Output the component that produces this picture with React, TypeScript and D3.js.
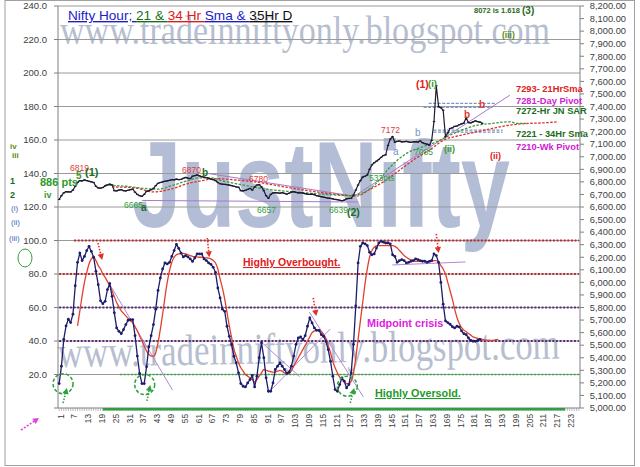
import React from 'react';
import * as d3 from 'd3';

// ---- data ----
const categories = d3.range(1, 228);
const xTickLabels = d3.range(1, 224, 6);
const leftTicks = d3.range(20, 241, 20);
const rightTicks = d3.range(5000, 8201, 100);

// hourly oscillator (left axis), categories 1..184
const osc = [14.6, 25, 41, 49, 53, 51, 56, 73, 87, 92.5, 88, 90.5, 94, 96.5, 93.5, 90, 81.6, 73.6, 64, 62.3,
  63.7, 70.7, 74.2, 66.7, 56.8, 47.8, 45.8, 44.4, 46.8, 49.8, 52.4, 52.8, 52.8, 43.2, 31, 20.6, 14.6, 14.6, 24.6, 36.5,
  43.2, 49.8, 59, 70.2, 77.6, 83, 86.6, 86, 87, 90.5, 94, 97.7, 95.3, 92.5, 90.2, 91, 90.2, 89, 87.5, 89.6,
  92, 92, 92, 89, 88, 86.6, 85.8, 84, 81, 71.7, 65.7, 59, 57.7, 48.8, 42.8, 37.9, 30.9, 27, 21, 14.6,
  13, 12.6, 15, 17, 19.4, 12.6, 19, 30, 39, 30, 18, 10, 10, 15, 23, 25, 27, 25, 23, 20.6,
  21.4, 25, 31, 38, 41.8, 42.4, 40.8, 43.2, 48.8, 53.8, 50.8, 47.8, 46.4, 46.3, 43.8, 42.8, 39.8, 34.9, 27.9, 19,
  11, 10, 14, 18, 16, 12, 14, 21, 38, 61, 86.6, 96.5, 98.5, 98, 97, 93, 91.5, 92, 95.5, 98.5,
  99.5, 99, 98.5, 98.5, 98, 91.5, 90.5, 87, 88, 88.6, 88, 86.6, 87, 87.6, 88, 89, 88.6, 88, 87.6, 87.6,
  87, 87.5, 88, 92, 91, 87, 75, 62, 52, 51, 50, 48.5, 47.8, 48.8, 48.4, 46, 44.4, 43.8, 41.8, 40.4,
  39.8, 39.8, 40.4, 41];

// its moving average, starting at category 9
const oscSmaStart = 9;
const oscSma = [49, 58, 67, 75, 81, 86, 89, 90, 88, 85, 83, 80, 78, 75.5, 73, 70, 66.5, 63, 60.5, 58,
  56.5, 55, 53.5, 52, 51, 48.5, 46, 43, 40, 37, 34, 32, 31, 31, 33, 39, 47, 56, 66, 75,
  82, 87, 90, 91.5, 92, 92.3, 92.3, 92, 91.5, 91, 90.5, 90.3, 90.2, 90, 90, 89.8, 89.6, 89.5, 89, 88,
  86.6, 83, 77, 71.7, 65, 57, 49, 42, 35, 31, 27, 24, 22, 20, 19, 18, 17, 15.5, 17, 19,
  21, 23, 22.5, 22, 21.7, 21.4, 21.5, 22, 22.5, 22, 21, 20.8, 20.6, 22.5, 25, 27.5, 30, 32.5, 35, 37.5,
  40, 42.5, 45, 46, 46.4, 46.4, 45.5, 44, 41.5, 37.5, 33, 28, 24, 21, 18.5, 17, 15.5, 14.5, 14.5, 16,
  21, 30, 41, 52, 63, 74, 83, 90, 94, 96, 96.8, 97, 97, 97, 97, 97, 97, 97, 96.5, 95.5,
  94, 92.5, 91, 90, 89, 88.5, 88, 87.5, 87.5, 87.5, 87.5, 87.5, 87.5, 87.5, 87.5, 88, 88, 87, 85, 83,
  80, 75, 70, 65, 59, 54, 50.5, 48, 46.5, 45.5, 44.5, 43.5, 42.5, 42, 41.5, 41.3, 41, 40.7, 40.4, 40.3,
  40.3, 40.5, 40.8, 41];

// Nifty hourly close (right axis), categories 1..185
const price = [6660, 6690, 6712, 6722, 6720, 6720, 6735, 6765, 6795, 6810, 6808, 6815, 6810, 6805, 6800, 6795, 6765, 6752, 6750, 6755,
  6768, 6775, 6782, 6776, 6730, 6728, 6735, 6738, 6730, 6728, 6733, 6738, 6742, 6718, 6700, 6690, 6685, 6700, 6725, 6730,
  6738, 6748, 6770, 6788, 6795, 6800, 6805, 6808, 6812, 6818, 6816, 6822, 6818, 6820, 6828, 6835, 6830, 6826, 6845, 6850,
  6855, 6848, 6842, 6838, 6834, 6828, 6822, 6818, 6810, 6795, 6785, 6782, 6780, 6778, 6774, 6770, 6765, 6760, 6757, 6730,
  6728, 6733, 6740, 6748, 6735, 6760, 6775, 6778, 6760, 6730, 6690, 6670, 6700, 6712, 6715, 6712, 6710, 6714, 6708, 6702,
  6710, 6718, 6722, 6716, 6712, 6714, 6710, 6706, 6702, 6700, 6702, 6698, 6690, 6686, 6682, 6678, 6675, 6670, 6668, 6665,
  6660, 6658, 6654, 6650, 6655, 6665, 6668, 6668, 6695, 6735, 6775, 6810, 6838, 6845, 6855, 6900, 6935, 6952, 6965, 6978,
  6995, 7010, 7015, 7090, 7140, 7160, 7115, 7122, 7125, 7118, 7120, 7122, 7118, 7115, 7118, 7120, 7116, 7125, 7112, 7105,
  7100, 7092, 7130, 7280, 7565, 7400, 7390, 7370, 7160, 7190, 7225, 7230, 7242, 7245, 7255, 7262, 7268, 7310, 7272, 7270,
  7278, 7286, 7280, 7276, 7266];

// 21 hr and 34 hr SMA readings (category, price)
const sma21Cats = [21, 30, 38, 44, 50, 56, 62, 67, 72, 78, 84, 90, 100, 110, 120, 127, 133, 139, 145, 152, 159, 165, 171, 176, 183, 189, 197, 200, 204];
const sma21Vals = [6775, 6765, 6748, 6742, 6770, 6805, 6832, 6832, 6808, 6785, 6765, 6745, 6725, 6710, 6697, 6690, 6712, 6790, 6919, 7026, 7079, 7118, 7172, 7212, 7252, 7265, 7278, 7265, 7265];
const sma34Cats = [24, 34, 42, 50, 57, 64, 69, 78, 86, 99, 113, 125, 130, 136, 142, 149, 156, 162, 168, 176, 183, 190, 197, 205, 212, 218];
const sma34Vals = [6760, 6752, 6720, 6745, 6787, 6812, 6826, 6815, 6800, 6760, 6720, 6694, 6686, 6739, 6800, 6893, 6986, 7052, 7130, 7172, 7200, 7228, 7252, 7265, 7270, 7278];

// trend lines on price [c1, p1, c2, p2]
const priceTrends = [[37, 6652, 131, 6640], [66, 6866, 128, 6690], [130, 6694, 197, 7490]];
// pivot bands [cFrom, cTo, price]
const pivotLines = [[161.7, 190.8, 7425], [159.5, 189.5, 7393], [163.8, 193.8, 7212], [163.8, 193.8, 7196]];
// trend lines on oscillator [c1, v1, c2, v2]
const oscTrends = [[23.2, 73.4, 50.3, 10.7], [89.2, 39, 105.6, 18.7], [91.9, 9, 118.9, 47.2], [109.8, 57.3, 133.3, 6.6], [145.9, 85.4, 177.7, 87.2]];
// level lines on oscillator
const levels = [
  { v: 100, from: 7.5, to: 227, color: '#b52a2e', dash: '2 1.6', w: 2 },
  { v: 80, from: 1, to: 227, color: '#b52a2e', dash: '2 1.6', w: 2 },
  { v: 60, from: 1, to: 227, color: '#5a2b78', dash: '2 1.6', w: 2 },
  { v: 40, from: 1, to: 227, color: '#5a2b78', dash: '2 1.6', w: 2 },
  { v: 20, from: 27.5, to: 227, color: '#35a545', dash: '2 1.6', w: 1.6 },
];
const redArrows = [[17.9, 98.5, 19.7, 88.4], [65.4, 101.5, 66.3, 90], [111.5, 65.7, 112.8, 54.9], [165, 103.9, 166, 92.5]];
const greenArrows = [[2.7, 3, 4.4, 12], [39.2, 4.2, 40.6, 13.7], [127.6, 3, 129.3, 12]];
const greenCircles = [[2.7, 14.5], [38.2, 14], [126.3, 13]];

const FONT = '"Liberation Sans", Arial, sans-serif';
const SERIF = '"Liberation Serif", "Times New Roman", serif';

const x = d3.scaleBand<number>().domain(categories).range([58, 580]);
const bw = x.bandwidth();
const cx = (c: number) => 58 + (c - 1) * bw + bw / 2;
const yL = d3.scaleLinear().domain([0, 240]).range([408, 6]);
const yR = d3.scaleLinear().domain([5000, 8200]).range([408, 6]);

function Arrow({ x1, y1, x2, y2, color, dash }: { x1: number; y1: number; x2: number; y2: number; color: string; dash: string }) {
  const a = Math.atan2(y2 - y1, x2 - x1);
  const hl = 6, hw = 3.2;
  const bx = x2 - hl * Math.cos(a), by = y2 - hl * Math.sin(a);
  const px = -Math.sin(a) * hw, py = Math.cos(a) * hw;
  return (
    <g>
      <line x1={x1} y1={y1} x2={bx} y2={by} stroke={color} strokeWidth={1.6} strokeDasharray={dash} />
      <polygon points={`${x2},${y2} ${bx + px},${by + py} ${bx - px},${by - py}`} fill={color} />
    </g>
  );
}

export default function App() {
  const oscLine = d3.line<number>().x((_, i) => cx(i + 1)).y(d => yL(d));
  const oscSmaLine = d3.line<number>().x((_, i) => cx(i + oscSmaStart)).y(d => yL(d)).curve(d3.curveMonotoneX);
  const priceLine = d3.line<number>().x((_, i) => cx(i + 1)).y(d => yR(d));
  const smaLine = d3.line<[number, number]>().x(d => cx(d[0])).y(d => yR(d[1])).curve(d3.curveMonotoneX);
  const sma21 = sma21Cats.map((c, i) => [c, sma21Vals[i]] as [number, number]);
  const sma34 = sma34Cats.map((c, i) => [c, sma34Vals[i]] as [number, number]);

  const lbl = (t: string, px: number, py: number, fill: string, size = 8.5, weight = 'normal', anchor = 'start') => (
    <text key={t + px + '_' + py} x={px} y={py} fill={fill} fontSize={size} fontWeight={weight} textAnchor={anchor} fontFamily={FONT}>{t}</text>
  );

  return (
    <svg width={640} height={467} style={{ position: 'absolute', left: 0, top: 0 }} xmlns="http://www.w3.org/2000/svg">
      <rect x={0} y={0} width={640} height={467} fill="#ffffff" />
      <rect x={5} y={0.5} width={629.5} height={465} fill="#ffffff" stroke="#a0a0a0" strokeWidth={1} />

      {/* watermarks */}
      <text x={60} y={44} fontFamily={SERIF} fontSize={40} fill="#b6bed0" textLength={490} lengthAdjust="spacingAndGlyphs">www.tradeinniftyonly.blogspot.com</text>
      <text x={132} y={227} fontFamily='"Liberation Sans Narrow", "Liberation Sans", Arial, sans-serif' fontWeight="bold" fontSize={122} fill="#b3bdd6" textLength={378} lengthAdjust="spacingAndGlyphs">JustNifty</text>
      <text x={58} y={363} transform="rotate(-1 300 363)" fontFamily={SERIF} fontSize={44} fill="#b6bed0" textLength={502} lengthAdjust="spacingAndGlyphs">www.tradeinniftyonly.blogspot.com</text>

      {/* gridlines */}
      {leftTicks.map(t => (
        <line key={'g' + t} x1={58} x2={580} y1={yL(t)} y2={yL(t)} stroke="#9a9a9a" strokeWidth={1} />
      ))}

      {/* level lines */}
      {levels.map(l => (
        <line key={'lv' + l.v} x1={cx(l.from)} x2={Math.min(580, cx(l.to))} y1={yL(l.v)} y2={yL(l.v)} stroke={l.color} strokeWidth={l.w} strokeDasharray={l.dash} />
      ))}

      {/* axes */}
      <line x1={58} x2={58} y1={6} y2={408} stroke="#808080" />
      <line x1={580} x2={580} y1={6} y2={408} stroke="#808080" />
      <line x1={58} x2={580} y1={408} y2={408} stroke="#808080" />
      {categories.map(c => (
        <line key={'xt' + c} x1={cx(c)} x2={cx(c)} y1={408} y2={411} stroke="#909090" strokeWidth={0.6} />
      ))}
      {leftTicks.concat([0]).map(t => (
        <line key={'lt' + t} x1={54} x2={58} y1={yL(t)} y2={yL(t)} stroke="#808080" />
      ))}
      {leftTicks.map(t => lbl(d3.format('.1f')(t), 47, yL(t) + 3.3, '#404040', 9.5, 'normal', 'end'))}
      {rightTicks.map(t => (
        <line key={'rt' + t} x1={580} x2={584} y1={yR(t)} y2={yR(t)} stroke="#808080" />
      ))}
      {rightTicks.map(t => lbl(d3.format(',.2f')(t), 626, yR(t) + 3.3, '#404040', 9.3, 'normal', 'end'))}
      {xTickLabels.map(c => (
        <text key={'xl' + c} transform={`translate(${cx(c) + 1.5},414) rotate(-90)`} textAnchor="end" dy="0.35em" fontSize={8.3} fill="#404040" fontFamily={FONT}>{c}</text>
      ))}
      <line x1={cx(20)} x2={cx(221)} y1={409.3} y2={409.3} stroke="#2ea040" strokeWidth={2.6} />

      {/* price panel */}
      {priceTrends.map((t, i) => (
        <line key={'pt' + i} x1={cx(t[0])} y1={yR(t[1])} x2={cx(t[2])} y2={yR(t[3])} stroke="#a77ac8" strokeWidth={1} />
      ))}
      {pivotLines.map((p, i) => (
        <line key={'pv' + i} x1={cx(p[0])} x2={cx(p[1])} y1={yR(p[2])} y2={yR(p[2])} stroke="#7d93c4" strokeWidth={1.2} strokeDasharray="3 1.5" />
      ))}
      <path d={smaLine(sma34) ?? ''} fill="none" stroke="#e0302a" strokeWidth={1.3} strokeDasharray="2.5 1.5" />
      <path d={smaLine(sma21) ?? ''} fill="none" stroke="#3a9a3a" strokeWidth={1.3} strokeDasharray="2.5 1.5" />
      <path d={priceLine(price) ?? ''} fill="none" stroke="#1e1a30" strokeWidth={1.2} />
      {price.map((p, i) => (
        <line key={'pk' + i} x1={cx(i + 1) - 1.2} x2={cx(i + 1) + 1.2} y1={yR(p)} y2={yR(p)} stroke="#1e1a30" strokeWidth={1.2} />
      ))}

      {/* oscillator */}
      {oscTrends.map((t, i) => (
        <line key={'ot' + i} x1={cx(t[0])} y1={yL(t[1])} x2={cx(t[2])} y2={yL(t[3])} stroke="#b58ad0" strokeWidth={1} />
      ))}
      <path d={oscSmaLine(oscSma) ?? ''} fill="none" stroke="#e2402e" strokeWidth={1.3} />
      <path d={oscLine(osc) ?? ''} fill="none" stroke="#1d1d6b" strokeWidth={1.3} />
      {osc.map((v, i) => (
        <circle key={'om' + i} cx={cx(i + 1)} cy={yL(v)} r={1.4} fill="#1d1d6b" />
      ))}

      {/* annotations */}
      {greenCircles.map((c, i) => (
        <circle key={'gc' + i} cx={cx(c[0])} cy={yL(c[1])} r={10} fill="none" stroke="#2ea040" strokeWidth={1.5} strokeDasharray="3.5 2" />
      ))}
      {redArrows.map((a, i) => (
        <Arrow key={'ra' + i} x1={cx(a[0])} y1={yL(a[1])} x2={cx(a[2])} y2={yL(a[3])} color="#e0302a" dash="1.5 1.5" />
      ))}
      {greenArrows.map((a, i) => (
        <Arrow key={'ga' + i} x1={cx(a[0])} y1={yL(a[1])} x2={cx(a[2])} y2={yL(a[3])} color="#2ea040" dash="1.5 1.5" />
      ))}
      <Arrow x1={21} y1={430} x2={39} y2={418} color="#e040e0" dash="2 1.5" />
      <ellipse cx={25} cy={258} rx={7} ry={9} fill="none" stroke="#3a9a3a" strokeWidth={1} />

      {/* title */}
      <text x={68} y={20} fontSize={13.6} fontFamily={FONT}>
        <tspan fill="#1c1cc8" textDecoration="underline">Nifty Hour; </tspan>
        <tspan fill="#1a6e1a" textDecoration="underline">21 &amp; </tspan>
        <tspan fill="#e01818" textDecoration="underline">34 Hr </tspan>
        <tspan fill="#1c1cc8" textDecoration="underline">Sma &amp; </tspan>
        <tspan fill="#111111" textDecoration="underline">35Hr D</tspan>
      </text>

      {/* oscillator labels */}
      <text x={243} y={266} fill="#e02020" fontSize={10.5} fontWeight="bold" fontFamily={FONT} textDecoration="underline">Highly Overbought.</text>
      <text x={367} y={327} fill="#e020e0" fontSize={10.8} fontWeight="bold" fontFamily={FONT}>Midpoint crisis</text>
      <text x={375} y={397} fill="#1e9a2a" fontSize={10.8} fontWeight="bold" fontFamily={FONT} textDecoration="underline">Highly Oversold.</text>

      {/* price labels */}
      {lbl('6819', 70, 171, '#e03a3a', 8.5)}
      {lbl('5', 76, 179, '#3a9a2a', 10, 'bold')}
      {lbl('(1)', 85, 176, '#1a6e1a', 11, 'bold')}
      {lbl('886 pts', 40, 186, '#2a9a2a', 11, 'bold')}
      {lbl('6665', 124, 208, '#2ea040', 8.5)}
      {lbl('a', 141, 211, '#1a6e1a', 10, 'bold')}
      {lbl('6870', 182, 173, '#e03a3a', 8.5)}
      {lbl('b', 202, 176, '#1a6e1a', 10, 'bold')}
      {lbl('6780', 249, 182, '#e03a3a', 8.5)}
      {lbl('6657', 257, 213, '#2ea040', 8.5)}
      {lbl('6639', 329, 213, '#2ea040', 8.5)}
      {lbl('(2)', 347, 216, '#1a6e1a', 10.5, 'bold')}
      {lbl('533pts', 369, 181, '#2ea040', 8.5)}
      {lbl('7172', 381, 133, '#e03a3a', 8.5)}
      {lbl('b', 415, 136, '#7d93c4', 10)}
      {lbl('a', 393, 155, '#7d93c4', 10)}
      {lbl('7085', 414, 155, '#2ea040', 8.5)}
      {lbl('(1)', 416, 88, '#e02020', 10.5, 'bold')}
      {lbl('(i)', 428, 87, '#3a9a2a', 9.5, 'bold')}
      {lbl('(ii)', 444, 152, '#3a9a2a', 9, 'bold')}
      {lbl('b', 464, 118, '#e03a3a', 10, 'bold')}
      {lbl('b', 479, 108, '#e03a3a', 10, 'bold')}
      {lbl('(ii)', 490, 159, '#e02020', 9, 'bold')}
      {lbl('8072 is 1.618', 474, 13, '#2a6a1a', 7.5, 'bold')}
      {lbl('(3)', 522, 14, '#2a6a1a', 10, 'bold')}
      {lbl('(iii)', 502, 38, '#5a8a1a', 8.5, 'bold')}
      {lbl('7293- 21HrSma', 516, 92, '#e02020', 9.3, 'bold')}
      {lbl('7281-Day Pivot', 516, 104, '#d020d0', 9.3, 'bold')}
      {lbl('7272-Hr JN SAR', 516, 114, '#1a6e1a', 9.3, 'bold')}
      {lbl('7221 - 34Hr Sma', 516, 137, '#1a6e1a', 9.3, 'bold')}
      {lbl('7210-Wk Pivot', 516, 150, '#d020d0', 9.3, 'bold')}

      {/* left margin wave counts */}
      {lbl('iv', 10, 149, '#5a8a1a', 8, 'bold')}
      {lbl('iii', 12, 158, '#5a8a1a', 8, 'bold')}
      {lbl('1', 10, 184, '#1a6e1a', 9, 'bold')}
      {lbl('2', 10, 198, '#1a6e1a', 9, 'bold')}
      {lbl('iv', 44, 198, '#3a9a2a', 9, 'bold')}
      {lbl('(i)', 11, 211, '#3a6ab8', 8)}
      {lbl('(ii)', 11, 225, '#3a6ab8', 8)}
      {lbl('(iii)', 9, 241, '#3a6ab8', 8)}
    </svg>
  );
}
